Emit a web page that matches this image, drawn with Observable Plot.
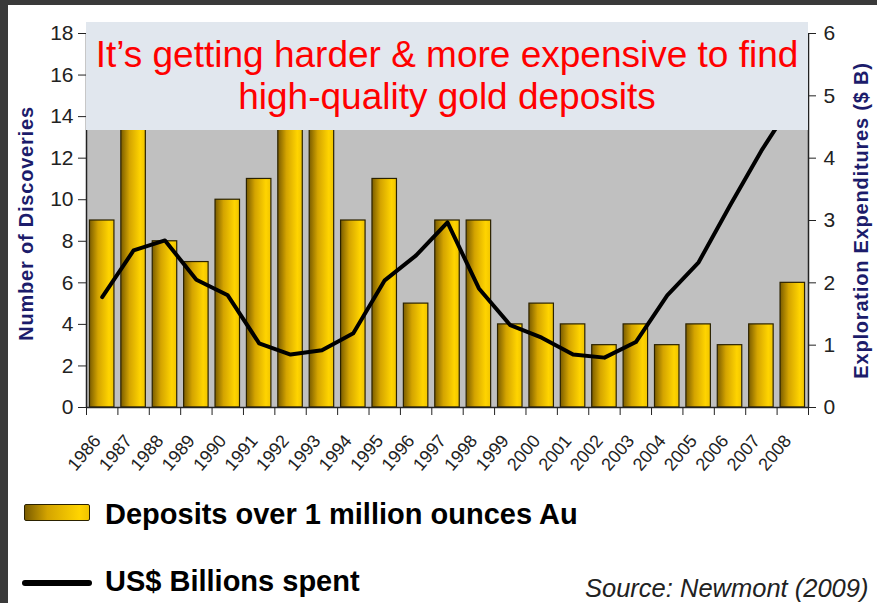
<!DOCTYPE html>
<html>
<head>
<meta charset="utf-8">
<script src="https://cdn.jsdelivr.net/npm/d3@7"></script>
<script src="https://cdn.jsdelivr.net/npm/@observablehq/plot@0.6"></script>
<style>
  html, body { margin: 0; padding: 0; background: #fff; }
  body { width: 877px; height: 603px; position: relative; overflow: hidden; font-family: "Liberation Sans", Arial, sans-serif; }
  #chart { position: absolute; left: 0; top: 0; }
  .topbar { position: absolute; left: 0; top: 0; width: 877px; height: 5px; background: #3a3a3a; }
  .leftbar { position: absolute; left: 0; top: 0; width: 8px; height: 603px; background: #3a3a3a; }
  .titlebox { position: absolute; left: 86px; top: 22px; width: 722px; height: 108px; background: #e1e7ee;
    color: #ff0000; font-size: 37px; line-height: 42px; text-align: center; padding-top: 12px; box-sizing: border-box; white-space: nowrap; }
  .leg { position: absolute; font-weight: bold; font-size: 29px; line-height: 28px; color: #000; white-space: nowrap; }
  .swatch { position: absolute; left: 24px; top: 504px; width: 64px; height: 15px; border: 1.5px solid #2b2200; border-radius: 2px;
    background: linear-gradient(to right, #7a5c00, #d4a400 35%, #ffd400 85%, #f0c400); }
  .lineSw { position: absolute; left: 22px; top: 580px; width: 70px; height: 6px; background: #000; border-radius: 3px; }
  .source { position: absolute; left: 585px; top: 575px; font-style: italic; font-size: 25.5px; line-height: 26px; color: #222; white-space: nowrap; }
</style>
</head>
<body>
<div id="chart"></div>
<div class="topbar"></div>
<div class="leftbar"></div>
<div class="titlebox">It’s getting harder &amp; more expensive to find<br>high-quality gold deposits</div>
<div class="swatch"></div>
<div class="leg" style="left:105px; top:500px;">Deposits over 1 million ounces Au</div>
<div class="lineSw"></div>
<div class="leg" style="left:105px; top:567px;">US$ Billions spent</div>
<div class="source">Source: Newmont (2009)</div>
<script>
const years = [1986,1987,1988,1989,1990,1991,1992,1993,1994,1995,1996,1997,1998,1999,2000,2001,2002,2003,2004,2005,2006,2007,2008];
const discoveries = [9,14,8,7,10,11,17,14,9,11,5,9,9,4,5,4,3,4,3,4,3,4,6];
const spending = [1.77,2.52,2.68,2.05,1.80,1.03,0.85,0.92,1.19,2.04,2.44,2.97,1.91,1.32,1.12,0.85,0.80,1.05,1.80,2.33,3.24,4.12,4.9];
const leftTicks = [0,2,4,6,8,10,12,14,16,18];
const rightTicks = [0,1,2,3,4,5,6];
const leftLabel = "Number of Discoveries";
const rightLabel = "Exploration Expenditures ($ B)";

const ratio = 18 / 6;
const data = years.map((y, i) => ({year: y, n: discoveries[i], spend: spending[i]}));
const boundaries = [years[0] - 0.5, ...years.map(y => y + 0.5)];

const defs = () => {
  const d = d3.create("svg:defs");
  const g = d.append("linearGradient").attr("id", "gold").attr("x1", "0").attr("x2", "1").attr("y1", "0").attr("y2", "0");
  g.append("stop").attr("offset", "0%").attr("stop-color", "#7a5c00");
  g.append("stop").attr("offset", "35%").attr("stop-color", "#d4a400");
  g.append("stop").attr("offset", "80%").attr("stop-color", "#ffd400");
  g.append("stop").attr("offset", "100%").attr("stop-color", "#f0c400");
  return d.node();
};

const narrow = "'Liberation Sans Narrow', 'Arial Narrow', 'Liberation Sans', Arial, sans-serif";
const sans = "'Liberation Sans', Arial, sans-serif";

const plot = Plot.plot({
  width: 877,
  height: 480,
  marginLeft: 86,
  marginRight: 69,
  marginTop: 33,
  marginBottom: 73,
  style: {fontFamily: narrow, fontSize: "21px", color: "#222", background: "transparent", overflow: "visible"},
  x: {domain: [years[0] - 0.5, years[years.length - 1] + 0.5], axis: null},
  y: {domain: [0, 18], axis: null},
  marks: [
    defs,
    Plot.frame({fill: "#c0c0c0", stroke: null}),
    Plot.rectY(data, {x1: d => d.year - 0.39, x2: d => d.year + 0.39, y: "n", fill: "url(#gold)", stroke: "#2b2200", strokeWidth: 1.2}),
    Plot.line(data, {x: "year", y: d => d.spend * ratio, stroke: "#000", strokeWidth: 4, curve: "linear", strokeLinejoin: "round"}),
    Plot.ruleY([0], {stroke: "#222", strokeWidth: 1.5}),
    Plot.ruleX([boundaries[0]], {stroke: "#222", strokeWidth: 1.5}),
    Plot.ruleX([boundaries[boundaries.length - 1]], {stroke: "#222", strokeWidth: 1.5}),
    Plot.axisY(leftTicks, {anchor: "left", tickSize: 8, tickPadding: 5, fontSize: 21, label: null, stroke: "#222"}),
    Plot.axisY(rightTicks.map(v => v * ratio), {anchor: "right", tickSize: 7, tickPadding: 8, fontSize: 21, label: null, tickFormat: v => v / ratio, stroke: "#222"}),
    Plot.axisX(boundaries, {anchor: "bottom", tickSize: 8, tickFormat: () => "", label: null, stroke: "#222"}),
    Plot.axisX(years, {anchor: "bottom", tickSize: 0, tickPadding: 30, tickRotate: -50, fontSize: 18, dx: -5, label: null, tickFormat: d => String(d)}),
    Plot.text([leftLabel], {frameAnchor: "left", textAnchor: "middle", dx: -60, dy: 3, rotate: -90, fontSize: 20, fontWeight: "bold", fill: "#1c1c6b", fontFamily: sans}),
    Plot.text([rightLabel], {frameAnchor: "right", textAnchor: "middle", dx: 53, rotate: -90, fontSize: 20, fontWeight: "bold", fill: "#1c1c6b", fontFamily: sans})
  ]
});
d3.select(plot).selectAll("g[aria-label=text] text").style("letter-spacing", "0.8px");
document.getElementById("chart").appendChild(plot);
</script>
</body>
</html>
